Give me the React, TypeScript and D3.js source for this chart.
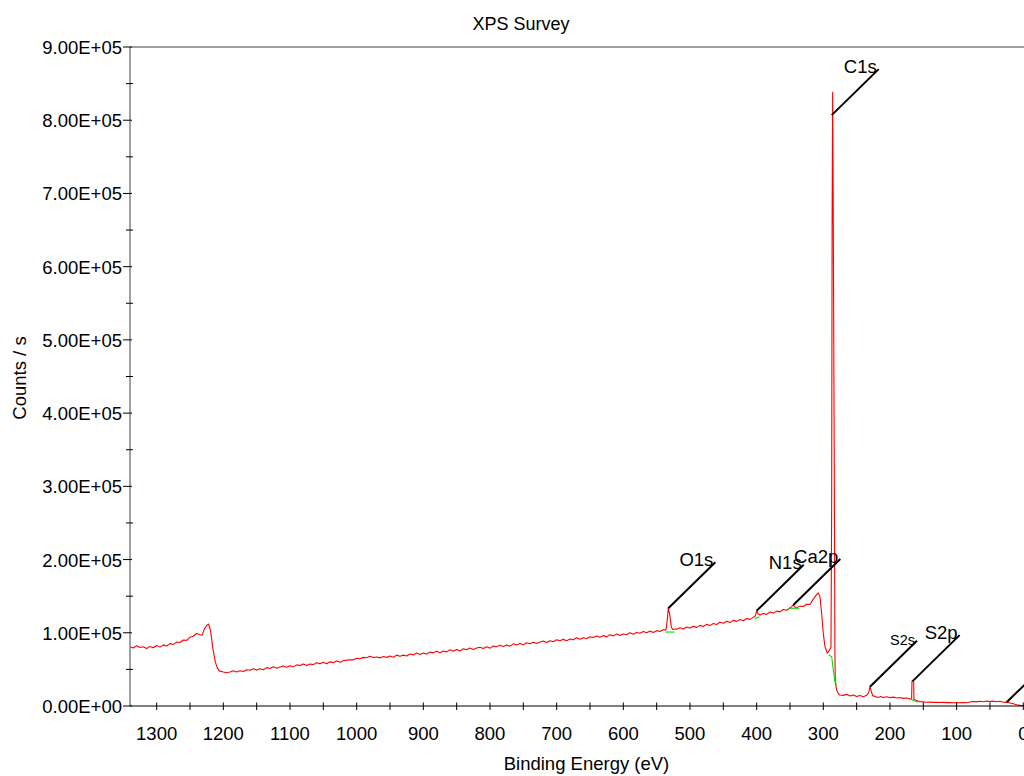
import React from 'react';
import * as d3 from 'd3';

// survey spectrum: [binding energy (eV), counts/s in thousands]
const surveyPoints: [number, number][] = [
  [1340, 81], [1335, 79.2], [1330, 82.3], [1325, 79.8], [1320, 80.9], [1315, 78.6], [1310, 81.4], [1305, 79.5],
  [1300, 82.6], [1295, 80.4], [1290, 83.5], [1285, 82.0], [1280, 85.2], [1275, 84.1], [1270, 87.3], [1265, 86.8],
  [1260, 90.2], [1255, 89.6], [1250, 94], [1245, 95.3], [1240, 99], [1235, 97.2], [1232, 96.5], [1228, 106],
  [1225, 110], [1222, 112], [1219, 102], [1216, 80], [1212, 60], [1209, 52], [1206, 48], [1200, 46.5],
  [1195, 45.5], [1190, 46.5], [1185, 48.1], [1180, 46.5], [1175, 48.2], [1170, 47.0], [1165, 49.6],
  [1160, 48.8], [1155, 50.9], [1150, 49.0], [1145, 51.0], [1140, 49.6], [1135, 52.4], [1130, 51.2],
  [1125, 53.5], [1120, 51.5], [1115, 53.3], [1110, 54.7], [1105, 52.9], [1100, 55.1], [1095, 53.4],
  [1090, 56.2], [1085, 55.2], [1080, 57.4], [1075, 55.3], [1070, 57.4], [1065, 56.5], [1060, 59.2],
  [1055, 57.6], [1050, 59.7], [1045, 57.8], [1040, 60.3], [1035, 59.2], [1030, 61.6], [1025, 59.8],
  [1020, 61.9], [1015, 62.7], [1010, 63.2], [1005, 63.0], [1000, 65.1], [995, 64.6], [990, 66.4],
  [985, 65.9], [980, 67.8], [975, 66.2], [970, 66.9], [965, 65.7], [960, 67.5], [955, 66.4], [950, 68.2],
  [945, 66.7], [940, 69.5], [935, 68.0], [930, 69.5], [925, 68.3], [920, 71.1], [915, 69.8], [910, 72.3],
  [905, 70.3], [900, 72.3], [895, 71.0], [890, 73.6], [885, 72.6], [880, 74.8], [875, 72.8], [870, 75.0],
  [865, 73.9], [860, 76.7], [855, 74.8], [850, 77.0], [845, 75.2], [840, 78.1], [835, 76.9], [830, 79.1],
  [825, 77.1], [820, 79.1], [815, 80.3], [810, 78.5], [805, 80.8], [800, 79.0], [795, 81.9], [790, 80.8],
  [785, 83.0], [780, 81.2], [775, 83.2], [770, 81.8], [765, 84.9], [760, 83.2], [755, 85.3], [750, 83.5],
  [745, 86.4], [740, 85.1], [735, 87.1], [730, 85.4], [725, 87.5], [720, 88.7], [715, 86.6], [710, 89.1],
  [705, 87.7], [700, 90.5], [695, 89.0], [690, 91.0], [685, 89.2], [680, 91.6], [675, 90.4], [670, 93.3],
  [665, 91.1], [660, 93.2], [655, 91.9], [650, 94.6], [645, 93.5], [640, 95.7], [635, 93.8], [630, 96.1],
  [625, 94.4], [620, 97.3], [615, 95.8], [610, 98.4], [605, 96.3], [600, 98.3], [595, 97.4], [590, 100.0],
  [585, 98.0], [580, 100.4], [575, 99.4], [570, 101.7], [565, 99.9], [560, 102.3], [555, 100.5],
  [550, 102.9], [545, 101.8], [540, 104.0], [536, 104], [534, 118], [532.5, 134], [531, 128], [530, 122],
  [528, 108], [526, 104.5], [523, 105.2], [520, 104.8], [515, 106.9], [510, 105.2], [505, 107.8],
  [500, 106.4], [495, 108.9], [490, 107.4], [485, 110.1], [480, 108.6], [475, 111.5], [470, 109.8],
  [465, 112.7], [460, 111.2], [455, 114.3], [450, 113.1], [445, 115.8], [440, 114.0], [435, 116.9],
  [430, 115.6], [425, 118.2], [420, 116.5], [415, 119.6], [410, 118.3], [405, 121], [402, 123], [400, 130],
  [398, 126], [395, 124.2], [390, 126.3], [385, 125.1], [380, 128.4], [375, 127.0], [370, 129.6],
  [365, 128.5], [360, 131.8], [355, 130.7], [350, 133.9], [347, 136], [345, 138], [343, 135.5], [340, 134],
  [335, 136.4], [330, 135.9], [325, 139.0], [320, 138.6], [317, 143], [315, 146], [312.5, 149], [310, 152],
  [307.5, 154.5], [305, 149], [302.5, 126.6], [300, 99], [297.5, 81], [294, 72], [291, 76], [288.5, 80],
  [287.5, 270], [286.8, 655], [286, 838], [285, 655], [283.3, 270], [282.6, 75], [282, 33], [280, 22],
  [277, 16.5], [275, 15], [270, 14.5], [265, 15.9], [260, 13.6], [255, 15.0], [250, 12.9], [245, 14.4],
  [240, 12.7], [235, 14.6], [232, 18], [230, 26.4], [228, 20], [226, 14], [222, 13.1], [218, 11.7],
  [214, 12.9], [210, 11.5], [205, 12.6], [200, 11.2], [195, 12.1], [190, 10.9], [185, 11.6], [180, 10.4],
  [175, 11.0], [170, 9.6], [167.5, 10.5], [167, 34], [164.5, 33], [164, 9], [161, 8], [158, 6.8], [155, 6.0],
  [150, 5.6], [145, 5.1], [140, 5.3], [135, 4.9], [130, 5.0], [125, 4.7], [120, 4.9], [115, 4.6],
  [110, 4.8], [105, 4.5], [100, 4.7], [95, 4.4], [90, 4.6], [85, 4.5], [80, 5.4], [75, 6.2], [70, 5.6],
  [65, 6.5], [60, 5.9], [55, 6.8], [50, 6.0], [45, 6.6], [40, 5.8], [35, 6.4], [30, 5.2], [27, 5.0],
  [25, 5.4], [20, 4.2], [15, 3.0], [10, 1.8], [5, 0.9], [0, 0.4], [-5, 0.2],
];

// fitted peak backgrounds (green)
const peakBackgrounds: [number, number][][] = [
  [[537, 101], [523, 101]],
  [[403, 119], [396, 122]],
  [[352, 133.5], [336, 133.5]],
  [[291.5, 69.7], [287.4, 67.3], [285, 49], [282.5, 33], [280, 28.7]],
  [[170, 9.6], [157.5, 5]],
];

// peak annotations; the O2s label itself falls outside the visible area
const peakLabels = [
  { name: 'O1s', energy: 532.5, counts: 133.5, size: 18.5, show: true },
  { name: 'N1s', energy: 400, counts: 130, size: 18.5, show: true },
  { name: 'Ca2p', energy: 345, counts: 138, size: 18.5, show: true },
  { name: 'C1s', energy: 287.4, counts: 807, size: 18.5, show: true },
  { name: 'S2s', energy: 230, counts: 26.4, size: 14.5, show: true },
  { name: 'S2p', energy: 166, counts: 34, size: 18.5, show: true },
  { name: 'O2s', energy: 25, counts: 5, size: 18.5, show: false },
];

const xMajorTicks = [1300, 1200, 1100, 1000, 900, 800, 700, 600, 500, 400, 300, 200, 100, 0];
const xMinorTicks = [1250, 1150, 1050, 950, 850, 750, 650, 550, 450, 350, 250, 150, 50];
const yMajorTicks = [0, 1e5, 2e5, 3e5, 4e5, 5e5, 6e5, 7e5, 8e5, 9e5];
const yMinorTicks = [0.5e5, 1.5e5, 2.5e5, 3.5e5, 4.5e5, 5.5e5, 6.5e5, 7.5e5, 8.5e5];

const FONT = '"Liberation Sans", Arial, sans-serif';

const fmtSci = (v: number) => {
  if (v === 0) return '0.00E+00';
  const exp = Math.floor(Math.log10(v));
  const m = v / Math.pow(10, exp);
  return `${m.toFixed(2)}E+${String(exp).padStart(2, '0')}`;
};

const App: React.FC = () => {
  const width = 1024;
  const height = 776;
  const left = 130;
  const top = 47;
  const bottom = 706;

  const x = d3.scaleLinear().domain([1340, 0]).range([left, 1023.3]);
  const y = d3.scaleLinear().domain([0, 9e5]).range([bottom, top]);

  const line = d3.line<[number, number]>()
    .x(d => x(d[0]))
    .y(d => y(d[1] * 1000));

  return (
    <svg width={width} height={height} style={{ position: 'absolute', left: 0, top: 0, background: '#fff' }}
      fontFamily={FONT}>
      <rect width={width} height={height} fill="#fff" />

      <text x={521} y={30} textAnchor="middle" fontSize={18}>XPS Survey</text>

      {/* spectrum */}
      <path d={line(surveyPoints) || ''} fill="none" stroke="#ff0000" strokeWidth={1.1} strokeLinejoin="round" />

      {peakBackgrounds.map((seg, i) => (
        <path key={i} d={line(seg) || ''} fill="none" stroke="#00e000" strokeWidth={1.1} />
      ))}

      {/* peak labels */}
      {peakLabels.map(p => {
        const px = x(p.energy);
        const py = y(p.counts * 1000);
        const ex = px + 47;
        const ey = py - 46;
        return (
          <g key={p.name}>
            <line x1={px} y1={py} x2={ex} y2={ey} stroke="#000" strokeWidth={2} />
            {p.show && <text x={ex - 2} y={ey + 4} textAnchor="end" fontSize={p.size}>{p.name}</text>}
          </g>
        );
      })}

      {/* frame */}
      <line x1={left} x2={width} y1={top} y2={top} stroke="#808080" strokeWidth={1.5} />
      <line x1={left} x2={left} y1={top} y2={bottom} stroke="#808080" strokeWidth={1.5} />
      <line x1={left} x2={width} y1={bottom} y2={bottom} stroke="#000" strokeWidth={1} />

      {/* y axis */}
      {yMajorTicks.map(t => (
        <g key={t}>
          <line x1={123} x2={132} y1={y(t)} y2={y(t)} stroke="#000" strokeWidth={1} />
          <text x={122} y={y(t) + 7} textAnchor="end" fontSize={18.5}>{fmtSci(t)}</text>
        </g>
      ))}
      {yMinorTicks.map(t => (
        <line key={t} x1={126} x2={133} y1={y(t)} y2={y(t)} stroke="#000" strokeWidth={1} />
      ))}

      {/* x axis */}
      {xMajorTicks.map(t => (
        <g key={t}>
          <line x1={x(t)} x2={x(t)} y1={bottom - 3.5} y2={bottom + 4} stroke="#000" strokeWidth={1} />
          <text x={x(t)} y={739.5} textAnchor="middle" fontSize={18.5}>{t}</text>
        </g>
      ))}
      {xMinorTicks.map(t => (
        <line key={t} x1={x(t)} x2={x(t)} y1={bottom - 3.5} y2={bottom + 4} stroke="#000" strokeWidth={1} />
      ))}

      <text x={586.5} y={770} textAnchor="middle" fontSize={18.5}>Binding Energy (eV)</text>
      <text transform="translate(26,378) rotate(-90)" textAnchor="middle" fontSize={18.5}>Counts / s</text>
    </svg>
  );
};

export default App;
